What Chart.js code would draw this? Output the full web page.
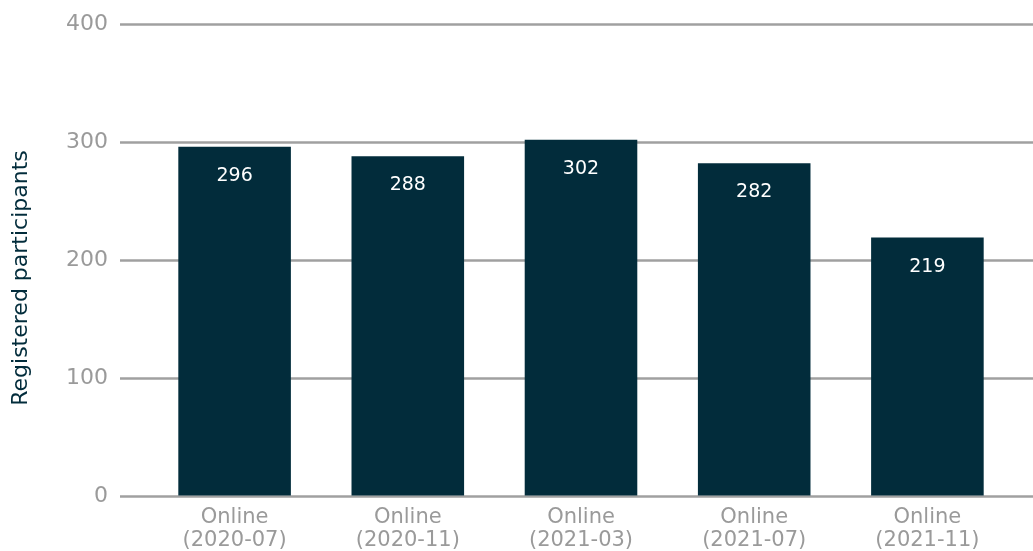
<!DOCTYPE html>
<html>
<head>
<meta charset="utf-8">
<script src="https://cdn.jsdelivr.net/npm/chart.js@4"></script>
<style>
html,body{margin:0;padding:0;background:#fff;}
#wrap{width:1033px;height:551px;position:relative;}
</style>
</head>
<body>
<div id="wrap"><canvas id="c" width="1033" height="551"></canvas></div>
<script>
const categories = [["Online","(2020-07)"],["Online","(2020-11)"],["Online","(2021-03)"],["Online","(2021-07)"],["Online","(2021-11)"]];
const participants = [296, 288, 302, 282, 219];
const yTicks = [0, 100, 200, 300, 400];
const yTitle = "Registered participants";

const FONT = "'DejaVu Sans', sans-serif";
const NAVY = "#022c3b";
const GRAY = "#9a9a9a";

const gridPlugin = {
  id: 'gridPlugin',
  beforeDatasetsDraw(chart) {
    const ctx = chart.ctx, y = chart.scales.y;
    ctx.save();
    ctx.strokeStyle = "#a0a0a0";
    ctx.lineWidth = 2.5;
    yTicks.forEach(v => {
      const py = Math.round(y.getPixelForValue(v)) + 0.5;
      ctx.beginPath();
      ctx.moveTo(120, py);
      ctx.lineTo(chart.width, py);
      ctx.stroke();
    });
    ctx.restore();
  },
  afterDatasetsDraw(chart) {
    const ctx = chart.ctx;
    const meta = chart.getDatasetMeta(0);
    ctx.save();
    ctx.fillStyle = "#ffffff";
    ctx.font = "19px " + FONT;
    ctx.textAlign = "center";
    ctx.textBaseline = "middle";
    meta.data.forEach((bar, i) => {
      ctx.fillText(String(participants[i]), bar.x, bar.y + 29);
    });
    ctx.restore();
    ctx.save();
    ctx.fillStyle = NAVY;
    ctx.font = "22px " + FONT;
    ctx.textAlign = "center";
    ctx.textBaseline = "middle";
    ctx.translate(21, 278);
    ctx.rotate(-Math.PI / 2);
    ctx.fillText(yTitle, 0, 0);
    ctx.restore();
  }
};

new Chart(document.getElementById('c'), {
  type: 'bar',
  data: {
    labels: categories,
    datasets: [{
      data: participants,
      backgroundColor: NAVY,
      borderWidth: 0,
      barPercentage: 0.65,
      categoryPercentage: 1.0
    }]
  },
  options: {
    responsive: false,
    animation: false,
    devicePixelRatio: 1,
    layout: { padding: { top: 24, right: 19, left: 0, bottom: 0 } },
    plugins: { legend: { display: false }, tooltip: { enabled: false } },
    scales: {
      x: {
        offset: true,
        grid: { display: false, drawTicks: false },
        border: { display: false },
        ticks: { color: GRAY, font: { family: FONT, size: 21, lineHeight: 1.05 }, padding: 11, maxRotation: 0 },
        afterFit(s) { s.height = 55; }
      },
      y: {
        min: 0, max: 400,
        grid: { display: true, drawOnChartArea: false, drawTicks: true, tickLength: 38, color: 'rgba(0,0,0,0)' },
        border: { display: false },
        ticks: { stepSize: 100, color: GRAY, font: { family: FONT, size: 22 }, padding: 2 },
        afterFit(s) { s.width = 148; }
      }
    }
  },
  plugins: [gridPlugin]
});
</script>
</body>
</html>
